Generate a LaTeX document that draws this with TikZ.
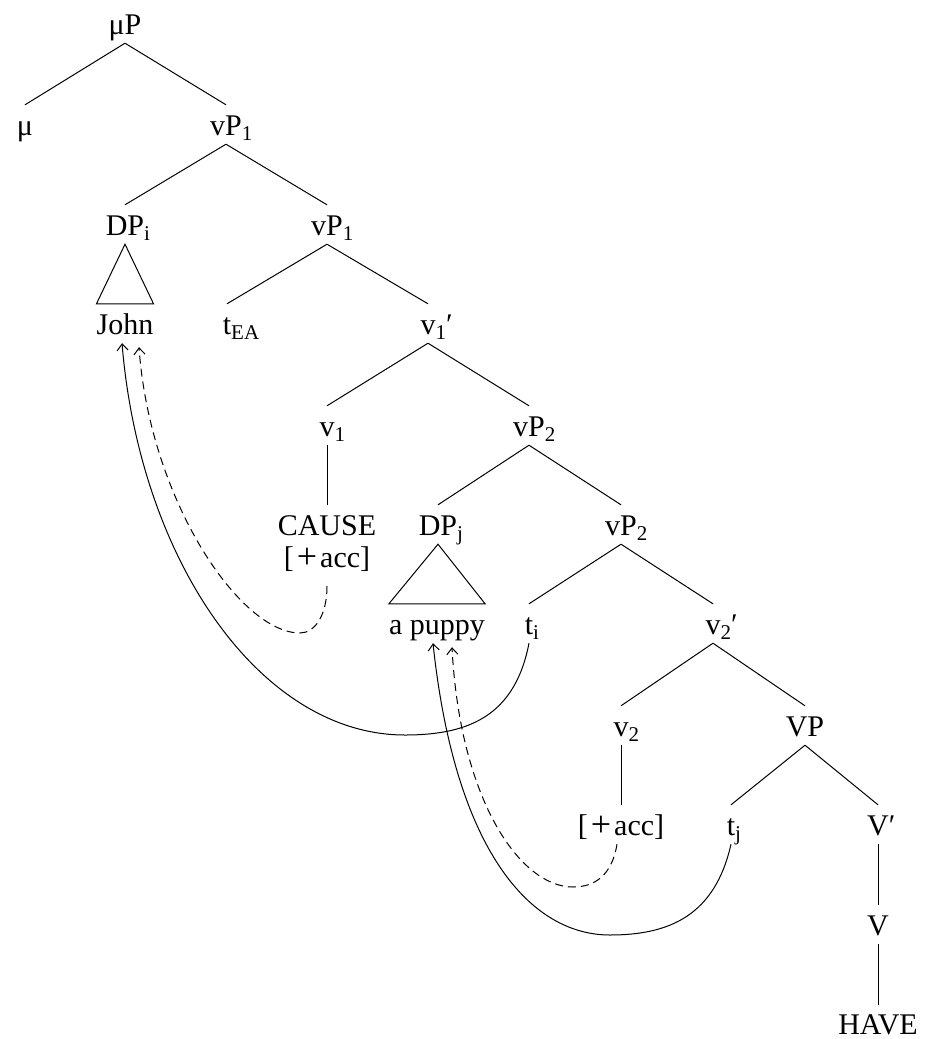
\documentclass[tikz,border=0pt]{standalone}
\usepackage{fontspec}
\setmainfont{Liberation Serif}
\usetikzlibrary{arrows.meta}
\newcommand\sbs[1]{\raisebox{-5pt}{\fontsize{21}{21}\selectfont #1}}
\newcommand\bigplus{\kern3pt\raisebox{-1.5pt}{\fontsize{36}{36}\selectfont +}\kern3pt}
\begin{document}
\begin{tikzpicture}[x=1pt,y=-1pt,
  tn/.style={anchor=base, inner sep=0pt, text height=30pt, text depth=9pt, font=\fontsize{30}{36}\selectfont},
  br/.style={line width=1pt},
  mv/.style={line width=1pt, -{Straight Barb[length=6.5pt,width=11pt]}},
  mvd/.style={mv, dash pattern=on 8pt off 5pt}]
\useasboundingbox (0,0) rectangle (924,1039);
\node[tn] (muP) at (125,34) {μP};
\node[tn] (mu) at (25,135) {μ};
\node[tn] (vPa) at (226,135) {vP\rlap{\sbs{1}}};
\node[tn] (DPi) at (125,235) {DP\rlap{\sbs{i}}};
\node[tn] (vPb) at (327,235) {vP\rlap{\sbs{1}}};
\node[tn] (john) at (125,334) {John};
\node[tn] (tea) at (227,334) {t\rlap{\sbs{EA}}};
\node[tn] (vbar1) at (428,334) {v\rlap{\sbs{1}′}};
\node[tn] (v1) at (327,436) {v\rlap{\sbs{1}}};
\node[tn] (vPc) at (529,436) {vP\rlap{\sbs{2}}};
\node[tn] (cause) at (327,535) {CAUSE};
\node[tn] (acc1) at (327,567) {[\bigplus acc]};
\node[tn] (DPj) at (438,535) {DP\rlap{\sbs{j}}};
\node[tn] (vPd) at (621,535) {vP\rlap{\sbs{2}}};
\node[tn] (puppy) at (437,634) {a puppy};
\node[tn] (ti) at (529,634) {t\rlap{\sbs{i}}};
\node[tn] (vbar2) at (713,634) {v\rlap{\sbs{2}′}};
\node[tn] (v2) at (621,736) {v\rlap{\sbs{2}}};
\node[tn] (VP) at (805,736) {VP};
\node[tn] (acc2) at (621,835) {[\bigplus acc]};
\node[tn] (tj) at (731,835) {t\rlap{\sbs{j}}};
\node[tn] (Vbar) at (878,835) {V\rlap{′}};
\node[tn] (V) at (878,935) {V};
\node[tn, text depth=1pt] (have) at (878,1034) {HAVE};
% branches
\draw[br] (muP.south) -- (mu.north);
\draw[br] (muP.south) -- (vPa.north);
\draw[br] (vPa.south) -- (DPi.north);
\draw[br] (vPa.south) -- (vPb.north);
\draw[br] (DPi.south) -- (john.north west) -- (john.north east) -- cycle;
\draw[br] (vPb.south) -- (tea.north);
\draw[br] (vPb.south) -- (vbar1.north);
\draw[br] (vbar1.south) -- (v1.north);
\draw[br] (vbar1.south) -- (vPc.north);
\draw[br] (v1.south) -- (cause.north);
\draw[br] (vPc.south) -- (DPj.north);
\draw[br] (vPc.south) -- (vPd.north);
\draw[br] (DPj.south) -- (puppy.north west) -- (puppy.north east) -- cycle;
\draw[br] (vPd.south) -- (ti.north);
\draw[br] (vPd.south) -- (vbar2.north);
\draw[br] (vbar2.south) -- (v2.north);
\draw[br] (vbar2.south) -- (VP.north);
\draw[br] (v2.south) -- (acc2.north);
\draw[br] (VP.south) -- (tj.north);
\draw[br] (VP.south) -- (Vbar.north);
\draw[br] (Vbar.south) -- (V.north);
\draw[br] (V.south) -- ([yshift=-1pt]have.north);
% movement arrows
\draw[mv] (ti.south) .. controls (515,715) and (470,735) .. (405,735)
  .. controls (260,735) and (140,560) .. ([xshift=-3pt]john.south);
\draw[mvd] ([yshift=-10pt]acc1.south) .. controls (327,615) and (315,633) .. (300,633)
  .. controls (240,633) and (150,500) .. ([xshift=14pt,yshift=-4pt]john.south);
\draw[mv] (tj.south) .. controls (715,915) and (670,935) .. (610,935)
  .. controls (530,935) and (455,850) .. ([xshift=-4pt]puppy.south);
\draw[mvd] ([xshift=-4pt]acc2.south) .. controls (612,875) and (595,887) .. (573,887)
  .. controls (520,887) and (460,800) .. ([xshift=15pt,yshift=-4pt]puppy.south);
\end{tikzpicture}
\end{document}
